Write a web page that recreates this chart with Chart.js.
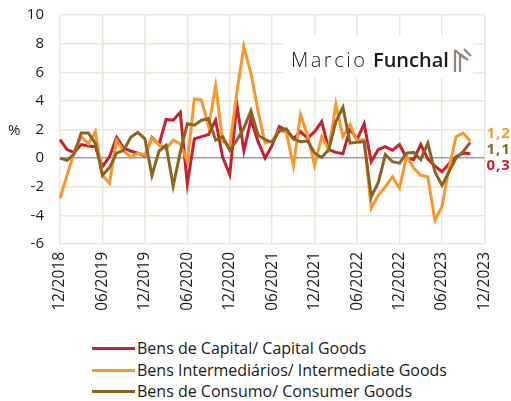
<!DOCTYPE html>
<html>
<head>
<meta charset="utf-8">
<script src="https://cdn.jsdelivr.net/npm/chart.js@4.4.1/dist/chart.umd.min.js"></script>
<style>
  html, body { margin: 0; padding: 0; background: #ffffff; }
  body { width: 511px; height: 401px; position: relative; overflow: hidden; font-family: "Open Sans", sans-serif; color: #1a1a1a; }
  #wrap { position: absolute; left: 0; top: 0; width: 511px; height: 330px; }
  #pct { position: absolute; left: 8px; top: 119px; font-size: 15px; }
  .leg { position: absolute; left: 92px; font-size: 16px; line-height: 20px; white-space: nowrap; }
  .leg span.sw { display: inline-block; width: 43px; height: 3px; vertical-align: middle; margin-right: 2px; position: relative; top: -1px; }
</style>
</head>
<body>
<div id="wrap"><canvas id="c"></canvas></div>
<div id="pct">%</div>
<div class="leg" style="top:338px"><span class="sw" style="background:#c8202e"></span>Bens de Capital/ Capital Goods</div>
<div class="leg" style="top:360px"><span class="sw" style="background:#f7982c"></span>Bens Intermediários/ Intermediate Goods</div>
<div class="leg" style="top:381px"><span class="sw" style="background:#8b6422"></span>Bens de Consumo/ Consumer Goods</div>
<script>
// Months from 12/2018 to 12/2023 (axis), data through 10/2023
const months = [];
(function(){ let m = 12, y = 2018; for (let i = 0; i <= 60; i++) { months.push(String(m).padStart(2,'0') + '/' + y); m++; if (m > 12) { m = 1; y++; } } })();

const capitalGoods = [1.3,0.6,0.4,0.95,0.85,0.8,-0.6,0.1,1.45,0.7,0.5,0.35,0.15,1.45,0.95,2.7,2.65,3.2,-1.8,1.35,1.5,1.65,2.65,0.05,-1.15,3.75,0.5,2.7,1.15,0.0,0.9,2.2,1.95,1.35,1.85,1.4,1.85,2.55,0.6,0.4,0.3,2.05,1.3,2.4,-0.25,0.6,0.8,0.55,0.95,0.0,-0.1,0.95,-0.05,-0.55,-0.95,-0.4,0.1,0.35,0.3];
const intermediateGoods = [-2.8,-1.2,0.4,1.5,1.0,1.85,-1.2,-1.75,1.25,0.5,0.05,0.35,0.2,1.4,0.95,0.65,1.25,1.0,-0.25,4.15,4.05,2.2,5.05,1.2,0.8,4.6,7.8,5.9,3.3,1.05,1.2,1.95,1.8,-0.55,3.05,1.6,-0.5,1.5,0.6,3.75,1.5,2.35,1.2,1.3,-3.5,-2.6,-2.0,-1.3,-2.1,0.15,-0.7,-1.2,-1.3,-4.35,-3.4,-0.7,1.5,1.75,1.2];
const consumerGoods = [0.0,-0.15,0.3,1.75,1.75,1.05,-1.2,-0.65,0.35,0.55,1.45,1.8,1.35,-1.2,0.5,0.9,-1.95,0.4,2.4,2.3,2.65,2.75,1.25,1.5,0.55,1.25,2.1,3.3,1.6,1.3,1.1,1.9,2.05,1.35,1.15,1.2,0.35,0.05,0.6,2.55,3.55,1.05,1.1,1.15,-2.7,-1.7,0.25,-0.25,-0.35,0.35,0.4,-0.1,1.05,-0.95,-1.9,-0.95,0.0,0.45,1.1];
const seriesNames = ['Bens de Capital/ Capital Goods','Bens Intermediários/ Intermediate Goods','Bens de Consumo/ Consumer Goods'];
const endLabels = ['0,3','1,2','1,1'];
const yTicks = [-6,-4,-2,0,2,4,6,8,10];

const RED = '#c8202e', ORANGE = '#f7982c', BROWN = '#8b6422';

const watermark = {
  id: 'watermark',
  beforeDatasetsDraw(chart) {
    const ctx = chart.ctx;
    ctx.save();
    ctx.fillStyle = '#ffffff';
    ctx.fillRect(283, 36, 190, 42);
    ctx.fillStyle = '#231815';
    ctx.textBaseline = 'alphabetic';
    ctx.font = '300 20px "Open Sans", sans-serif';
    ctx.letterSpacing = '2.5px';
    ctx.fillText('Marcio', 291, 67);
    ctx.font = '600 20px "Open Sans", sans-serif';
    ctx.letterSpacing = '0px';
    ctx.fillText('Funchal', 373, 67);
    ctx.strokeStyle = '#958479';
    ctx.lineWidth = 2.2;
    ctx.beginPath();
    ctx.moveTo(455, 50); ctx.lineTo(455, 72);
    ctx.moveTo(460, 54); ctx.lineTo(460, 72);
    ctx.moveTo(455, 50); ctx.lineTo(464, 58);
    ctx.moveTo(460, 54); ctx.lineTo(468, 60);
    ctx.moveTo(464, 49); ctx.lineTo(471, 56);
    ctx.stroke();
    ctx.restore();
  }
};

const endLabelPlugin = {
  id: 'endLabels',
  afterDatasetsDraw(chart) {
    const ctx = chart.ctx, ys = chart.scales.y, x = chart.chartArea.right + 2;
    const info = [
      { v: capitalGoods[capitalGoods.length-1], t: endLabels[0], c: RED, off: 12 },
      { v: intermediateGoods[intermediateGoods.length-1], t: endLabels[1], c: ORANGE, off: -7 },
      { v: consumerGoods[consumerGoods.length-1], t: endLabels[2], c: BROWN, off: 7 }
    ];
    ctx.save();
    ctx.font = 'bold 15px "Open Sans", sans-serif';
    ctx.textBaseline = 'middle';
    ctx.textAlign = 'left';
    ctx.letterSpacing = '1px';
    info.forEach(d => { ctx.fillStyle = d.c; ctx.fillText(d.t, x, ys.getPixelForValue(d.v) + d.off); });
    ctx.restore();
  }
};

new Chart(document.getElementById('c'), {
  type: 'line',
  data: {
    labels: months,
    datasets: [
      { label: seriesNames[0], data: capitalGoods, borderColor: RED, backgroundColor: RED, order: 3 },
      { label: seriesNames[1], data: intermediateGoods, borderColor: ORANGE, backgroundColor: ORANGE, order: 2 },
      { label: seriesNames[2], data: consumerGoods, borderColor: BROWN, backgroundColor: BROWN, order: 1 }
    ]
  },
  options: {
    responsive: true,
    maintainAspectRatio: false,
    animation: false,
    layout: { padding: { top: 15, right: 22, left: 3, bottom: 0 } },
    elements: { line: { borderWidth: 3, tension: 0, borderJoinStyle: 'miter' }, point: { radius: 0 } },
    plugins: { legend: { display: false }, tooltip: { enabled: false }, title: { display: false } },
    scales: {
      x: {
        type: 'category',
        offset: false,
        afterFit(s) { s.height = 86; s.paddingTop = 0; s.paddingBottom = 0; },
        grid: { color: '#ebe7d8', lineWidth: 1.5, drawTicks: false },
        border: { display: false },
        ticks: {
          autoSkip: false, maxRotation: 90, minRotation: 90, padding: 8,
          color: '#1a1a1a', font: { family: '"Open Sans", sans-serif', size: 15.5 },
          callback(v, i) { return i % 6 === 0 ? months[i] : null; }
        }
      },
      y: {
        min: -6, max: 10,
        afterFit(s) { s.width = 57; s.paddingTop = 0; s.paddingBottom = 0; },
        afterBuildTicks(s) { s.ticks = yTicks.map(v => ({ value: v })); },
        grid: {
          drawTicks: false, lineWidth: 1.5,
          color: c => (c.tick && c.tick.value === 0) ? '#9ca1a8' : '#ebe7d8'
        },
        border: { display: false },
        ticks: { padding: 16, color: '#1a1a1a', font: { family: '"Open Sans", sans-serif', size: 15 } }
      }
    }
  },
  plugins: [watermark, endLabelPlugin]
});
</script>
</body>
</html>
